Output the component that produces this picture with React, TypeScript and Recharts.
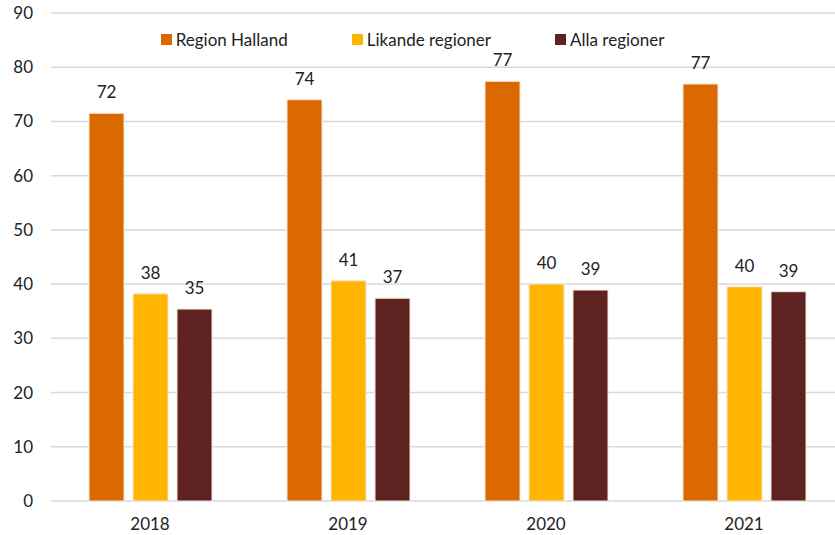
import { BarChart, Bar, XAxis, YAxis, CartesianGrid, LabelList } from "recharts";

const years = ["2018", "2019", "2020", "2021"];
const regionHalland = [71.5, 74.0, 77.4, 76.9];
const likandeRegioner = [38.2, 40.6, 40.0, 39.5];
const allaRegioner = [35.4, 37.4, 38.9, 38.6];
const yTicks = [0, 10, 20, 30, 40, 50, 60, 70, 80, 90];

const series = [
  { key: "halland", name: "Region Halland", color: "#DC6900" },
  { key: "likande", name: "Likande regioner", color: "#FFB400" },
  { key: "alla", name: "Alla regioner", color: "#5E2320" },
];

const data = years.map((y, i) => ({
  year: y,
  halland: regionHalland[i],
  likande: likandeRegioner[i],
  alla: allaRegioner[i],
}));

const font = "Lato, 'Open Sans', sans-serif";

// legend sits inside the plot, drawn as plain html on top
function LegendBox() {
  return (
    <div
      style={{
        position: "absolute",
        top: 29,
        left: 0,
        width: 825,
        display: "flex",
        justifyContent: "center",
        gap: 64,
        fontFamily: font,
        fontSize: 17,
        color: "#222",
      }}
    >
      {series.map((s) => (
        <span key={s.key} style={{ display: "flex", alignItems: "center" }}>
          <span style={{ width: 11, height: 11, background: s.color, marginRight: 4, display: "inline-block" }} />
          {s.name}
        </span>
      ))}
    </div>
  );
}

export default function App() {
  return (
    <div style={{ position: "absolute", left: 0, top: 0, width: 835, height: 535, overflow: "hidden", background: "#fff" }}>
      <BarChart
        width={843}
        height={535}
        data={data}
        margin={{ top: 13, right: 0, bottom: 4, left: 0 }}
        barSize={35}
        barGap={9}
      >
        <CartesianGrid vertical={false} stroke="#d9d9d9" strokeWidth={1.5} />
        <XAxis
          dataKey="year"
          axisLine={false}
          tickLine={false}
          tickMargin={11}
          tick={{ fill: "#222", fontSize: 17, fontFamily: font }}
        />
        <YAxis
          width={51}
          domain={[0, 90]}
          ticks={yTicks}
          axisLine={false}
          tickLine={false}
          tickSize={0}
          tickMargin={18}
          tick={{ fill: "#222", fontSize: 17, fontFamily: font }}
        />
        {series.map((s) => (
          <Bar key={s.key} dataKey={s.key} name={s.name} fill={s.color} stroke="#f5e6d8" strokeWidth={1} isAnimationActive={false}>
            <LabelList
              dataKey={s.key}
              position="top"
              offset={15}
              formatter={(v: number) => Math.round(v)}
              style={{ fill: "#222", fontSize: 17, fontFamily: font }}
            />
          </Bar>
        ))}
      </BarChart>
      <LegendBox />
    </div>
  );
}
